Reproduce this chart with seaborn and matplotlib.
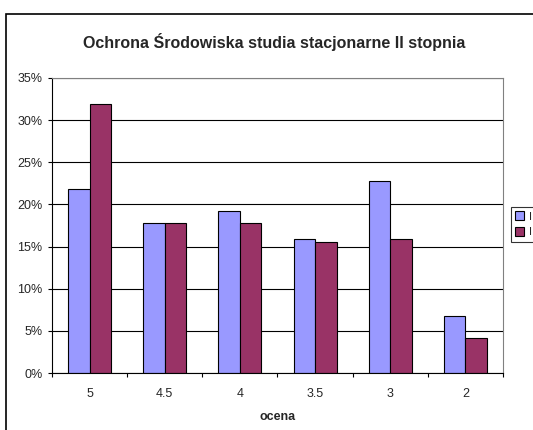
import matplotlib
matplotlib.use("Agg")
import matplotlib.pyplot as plt
import seaborn as sns
import pandas as pd
from matplotlib.patches import Rectangle
from matplotlib.ticker import FuncFormatter, FixedLocator

categories = ["5", "4.5", "4", "3.5", "3", "2"]
series_names = ["I", "II"]
values_I = [21.8, 17.8, 19.2, 15.9, 22.8, 6.8]
values_II = [31.9, 17.8, 17.8, 15.6, 15.9, 4.2]
yticks = [0, 5, 10, 15, 20, 25, 30, 35]

df = pd.DataFrame({
    "ocena": categories * 2,
    "value": values_I + values_II,
    "seria": [series_names[0]] * len(categories) + [series_names[1]] * len(categories),
})

sns.set_style("white")
plt.rcParams["font.family"] = ["Liberation Sans", "DejaVu Sans"]

fig = plt.figure(figsize=(5.33, 4.30), dpi=100)
ax = fig.add_axes([52 / 533, 1 - 373 / 430, 451 / 533, 295 / 430])

sns.barplot(data=df, x="ocena", y="value", hue="seria", order=categories,
            hue_order=series_names, palette=["#9999FF", "#993366"],
            saturation=1, width=0.571, edgecolor="black", linewidth=0.8,
            ax=ax, legend=True)

ax.set_ylim(0, 35)
ax.set_xlim(-0.5, len(categories) - 0.5)
ax.yaxis.set_major_locator(FixedLocator(yticks))
ax.yaxis.set_major_formatter(FuncFormatter(lambda v, p: f"{int(v)}%"))
ax.grid(axis="y", color="black", linewidth=0.8)
ax.set_axisbelow(True)

ax.tick_params(axis="y", which="major", length=3, width=0.8, color="black",
               labelsize=9, pad=4, left=True)
ax.tick_params(axis="x", which="major", length=0, labelsize=9, pad=10.5)
ax.set_xticks([i - 0.5 for i in range(len(categories) + 1)], minor=True)
ax.tick_params(axis="x", which="minor", length=3, width=0.8, color="black", bottom=True)

for s in ["left", "bottom"]:
    ax.spines[s].set_color("black")
    ax.spines[s].set_linewidth(0.8)
for s in ["top", "right"]:
    ax.spines[s].set_color("#808080")
    ax.spines[s].set_linewidth(0.8)

ax.set_ylabel("")
ax.set_xlabel("ocena", fontsize=9, fontweight="bold", labelpad=8)

fig.text(274 / 533, 1 - 42 / 430, "Ochrona Środowiska studia stacjonarne II stopnia",
         ha="center", va="center", fontsize=11.5, fontweight="bold")

leg = ax.legend(loc="upper left", bbox_to_anchor=(511 / 533, 1 - 207 / 430),
                bbox_transform=fig.transFigure, fontsize=8, frameon=True,
                fancybox=False, edgecolor="black", handlelength=0.8,
                handleheight=0.8, handletextpad=0.4, borderpad=0.4,
                labelspacing=0.5, borderaxespad=0)
leg.get_frame().set_linewidth(0.8)

fig.patches.append(Rectangle((6 / 533, -0.05), 1.2, 1 - 14 / 430 + 0.05,
                             transform=fig.transFigure, fill=False,
                             edgecolor="black", linewidth=1.2))

fig.savefig("out.png", dpi=100)
